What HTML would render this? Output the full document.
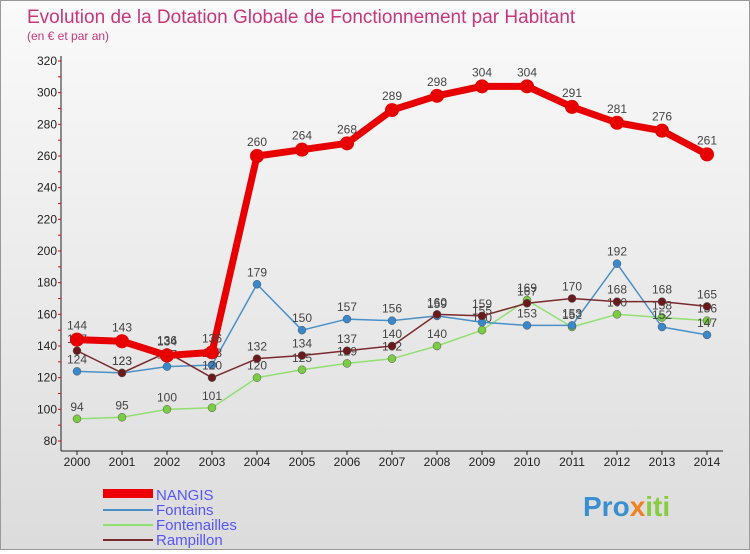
<!DOCTYPE html>
<html><head><meta charset="utf-8"><style>
body{margin:0;width:750px;height:550px;overflow:hidden;font-family:"Liberation Sans",sans-serif}
#wrap{position:relative;width:748px;height:548px;border:1px solid #999;background:linear-gradient(#fafafa,#dcdcdc)}
</style></head><body>
<div id="wrap">
<svg id="chart" width="748" height="548">
<text x="26" y="22" font-size="19" fill="#c8377a">Evolution de la Dotation Globale de Fonctionnement par Habitant</text>
<text x="26" y="39" font-size="12" fill="#c8377a">(en € et par an)</text>
<g id="axes"></g><g id="series"></g>
<g>
<rect x="102" y="488" width="50" height="9" fill="#e00"/>
<text x="155" y="499" font-size="15" fill="#55f">NANGIS</text>
<line x1="102" y1="509" x2="152" y2="509" stroke="#4a90c8" stroke-width="2"/>
<text x="155" y="514" font-size="15" fill="#55f">Fontains</text>
<line x1="102" y1="524" x2="152" y2="524" stroke="#90e070" stroke-width="2"/>
<text x="155" y="529" font-size="15" fill="#55f">Fontenailles</text>
<line x1="102" y1="539" x2="152" y2="539" stroke="#7a2a2a" stroke-width="2"/>
<text x="155" y="544" font-size="15" fill="#55f">Rampillon</text>
</g>
<text x="582" y="515" font-size="28" font-weight="bold" fill="#3a8fd0">Pro<tspan fill="#f08020">x</tspan><tspan fill="#8c4">iti</tspan></text>
</svg>
</div>
<script>
const years=[2000,2001,2002,2003,2004,2005,2006,2007,2008,2009,2010,2011,2012,2013,2014];
const yTicks=[80,100,120,140,160,180,200,220,240,260,280,300,320];
const nangis=[144,143,134,136,260,264,268,289,298,304,304,291,281,276,261];
const fontains=[124,123,127,128,179,150,157,156,159,155,153,153,192,152,147];
const fontenailles=[94,95,100,101,120,125,129,132,140,150,169,152,160,158,156];
const rampillon=[137,123,136,120,132,134,137,140,160,159,167,170,168,168,165];
const NS="http://www.w3.org/2000/svg";
const xS=i=>76+i*45;
const yS=v=>440-(v-80)*380/240;
function mk(tag,attrs,parent,txt){const e=document.createElementNS(NS,tag);for(const k in attrs)e.setAttribute(k,attrs[k]);if(txt!==undefined)e.textContent=txt;parent.appendChild(e);return e;}
const axes=document.getElementById('axes');
const ax1=mk('line',{x1:60,y1:55,x2:60,y2:450,stroke:'#222'},axes);


const ax2=mk('line',{x1:60,y1:450,x2:722,y2:450,stroke:'#222'},axes);


yTicks.forEach(v=>{
 const t=mk('text',{x:56,y:yS(v)+4,'font-size':12,fill:'#222','text-anchor':'end'},axes,v);
 
 
 mk('line',{x1:57,y1:yS(v),x2:60,y2:yS(v),stroke:'#e00'},axes);
 if(v<320)mk('line',{x1:57,y1:yS(v+10),x2:60,y2:yS(v+10),stroke:'#e00'},axes);
});
years.forEach((y,i)=>{
 const t=mk('text',{x:xS(i),y:465,'font-size':12,fill:'#222','text-anchor':'middle'},axes,y);
 
 
 mk('line',{x1:xS(i),y1:450,x2:xS(i),y2:454,stroke:'#222'},axes);
});
const sg=document.getElementById('series');
function draw(name,data,color,w,r,fill){
 const g=mk('g',{},sg);
 
 
 const pl=mk('polyline',{points:data.map((v,i)=>xS(i)+','+yS(v)).join(' '),fill:'none',stroke:color,'stroke-width':w,'stroke-linejoin':'round'},g);
 
 
 data.forEach((v,i)=>{
  const c=mk('circle',{cx:xS(i),cy:yS(v),r:r,fill:fill,stroke:w>3?'none':'#555','stroke-width':0.5},g);
  
  
  const t=mk('text',{x:xS(i),y:yS(v)-(w>3?10:8),'font-size':12,fill:'#444','text-anchor':'middle'},g,v);
  
  
 });
}
draw('fontenailles',fontenailles,'#90e070',1.5,4,'#7acc44');
draw('fontains',fontains,'#4a90c8',1.5,4,'#3a88cc');
draw('rampillon',rampillon,'#7a2a2a',1.5,4,'#6a1a1a');
draw('nangis',nangis,'#e80000',7,7,'#e80000');
</script>
</body></html>
